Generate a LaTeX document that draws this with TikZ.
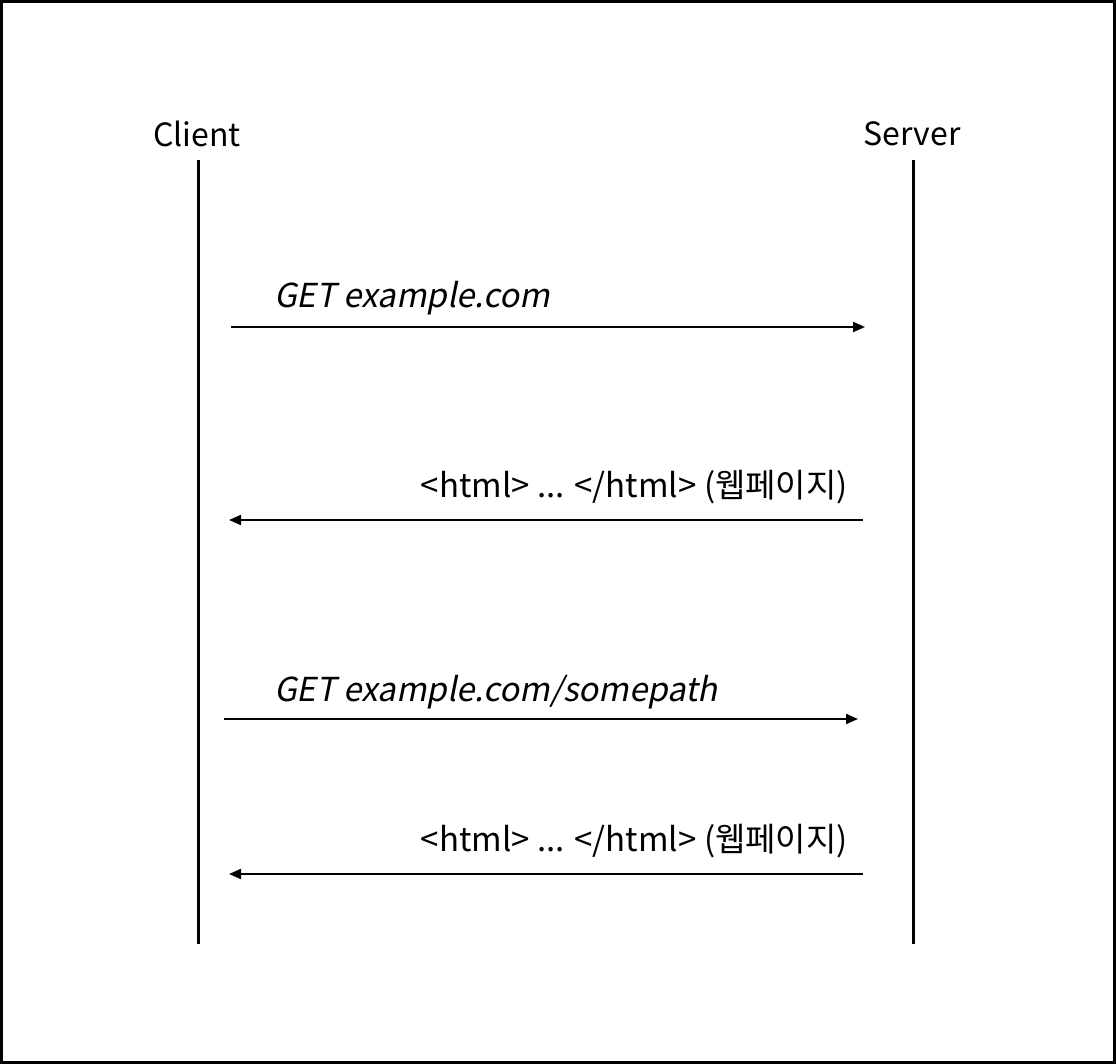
\documentclass[tikz,border=0pt]{standalone}
\usepackage{fontspec}
\setmainfont{Noto Sans CJK KR}[AutoFakeSlant=0.2]
\usetikzlibrary{arrows.meta}
\tikzset{
  lifeline/.style={line width=3pt},
  msg/.style={line width=2pt,-{Triangle[length=12pt,width=10pt]}},
  msglabel/.style={inner sep=0pt,font=\fontsize{33}{40}\selectfont},
  actor/.style={inner sep=0pt,font=\fontsize{32}{38}\selectfont}
}
\begin{document}
\begin{tikzpicture}[x=1pt,y=-1pt]
        % Frame
        \draw[line width=3pt] (1.5,1.5) rectangle (1114.5,1062.5);
        \useasboundingbox (0,0) rectangle (1116,1064);
        % Actors
        \node[actor,anchor=base] (client) at (197,147) {Client};
        \node[actor,anchor=base] (server) at (912,146) {Server};
        % Lifelines
        \coordinate (clienttop) at (198,160);
        \coordinate (clientbot) at (198,944);
        \coordinate (servertop) at (913,160);
        \coordinate (serverbot) at (913,944);
        \draw[lifeline] (clienttop) -- (clientbot);
        \draw[lifeline] (servertop) -- (serverbot);
        % Message ends
        \coordinate (req1a) at (231,327);
        \coordinate (req1b) at (865,327);
        \coordinate (res1a) at (863,520);
        \coordinate (res1b) at (229,520);
        \coordinate (req2a) at (224,719);
        \coordinate (req2b) at (858,719);
        \coordinate (res2a) at (863,874);
        \coordinate (res2b) at (229,874);
        % Messages
        \draw[msg] (req1a) -- (req1b);
        \draw[msg] (res1a) -- (res1b);
        \draw[msg] (req2a) -- (req2b);
        \draw[msg] (res2a) -- (res2b);
        % Text Node
        \node[msglabel,anchor=base west] (req1) at (274,308) {\textit{GET example.com}};
        % Text Node
        \node[msglabel,anchor=base east] (res1) at (848,497) {<html> ... </html> (웹페이지)};
        % Text Node
        \node[msglabel,anchor=base west] (req2) at (274,701) {\textit{GET example.com/somepath}};
        % Text Node
        \node[msglabel,anchor=base east] (res2) at (848,851) {<html> ... </html> (웹페이지)};
\end{tikzpicture}
\end{document}
